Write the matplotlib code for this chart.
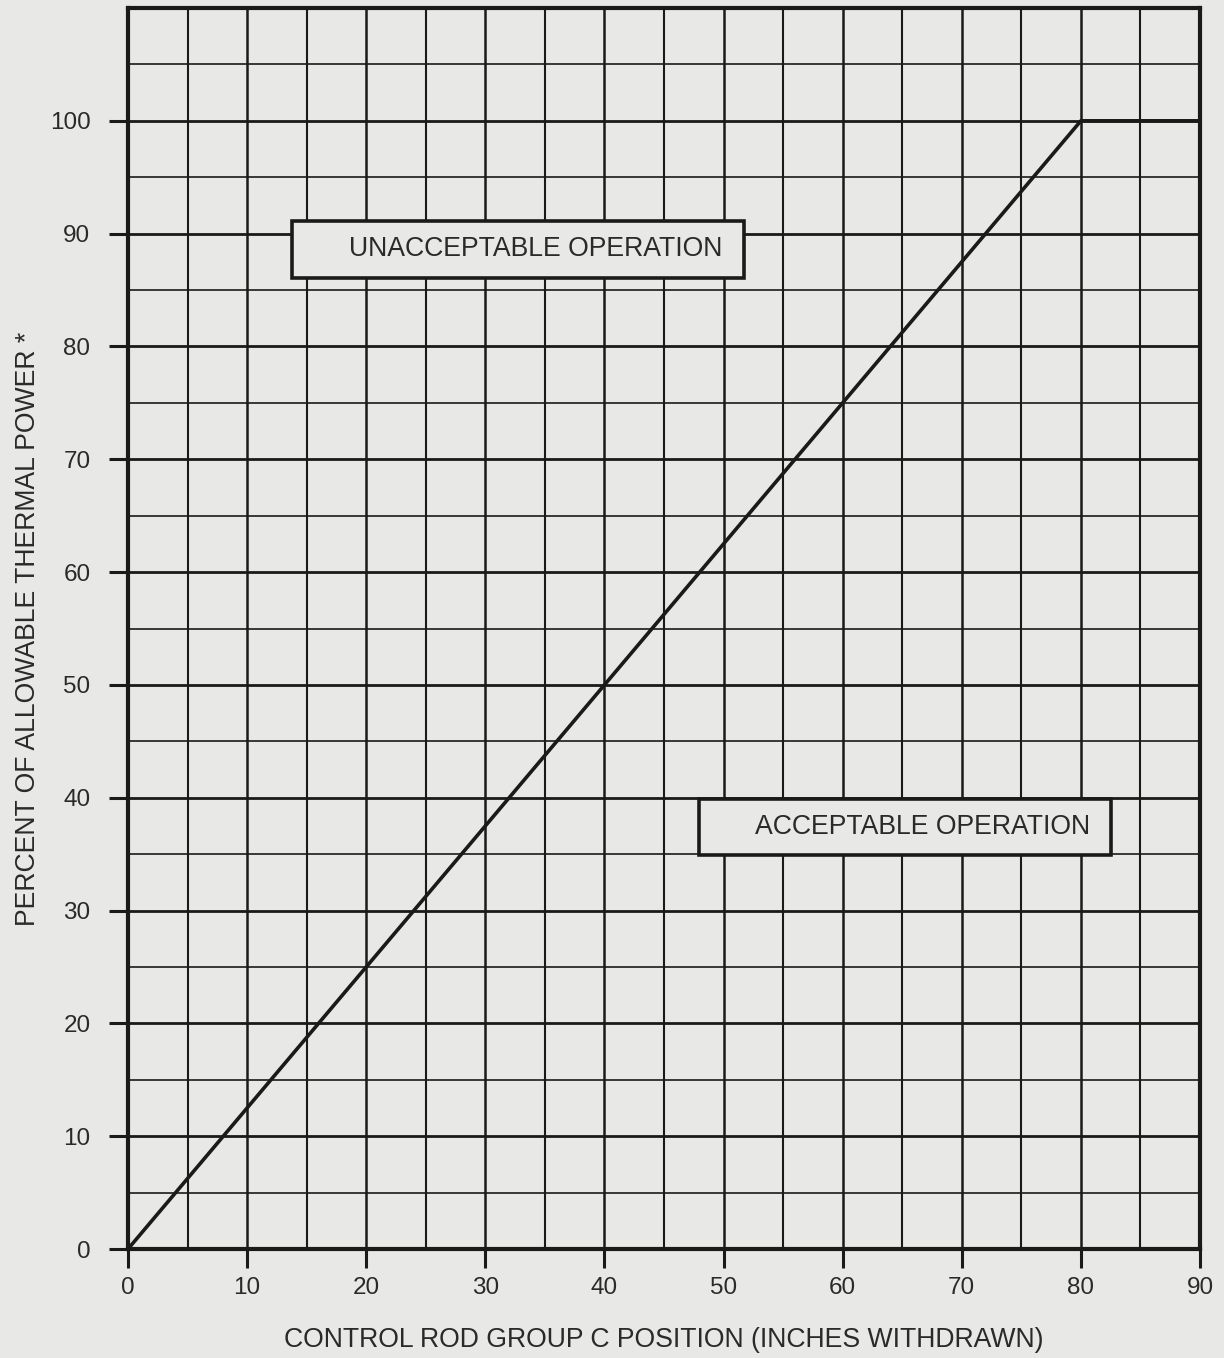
import matplotlib.pyplot as plt
import numpy as np

# limit curve: rod position vs allowable power
rod_position = [0, 80, 90]
thermal_power = [0, 100, 100]

x_ticks = list(range(0, 91, 10))
y_ticks = list(range(0, 101, 10))

region_labels = ["UNACCEPTABLE OPERATION", "ACCEPTABLE OPERATION"]

bg = "#e8e8e6"
ink = "#1a1a1a"
txt = "#2a2a2a"

plt.rcParams["font.family"] = ["Liberation Sans", "DejaVu Sans"]

fig = plt.figure(figsize=(12.24, 13.58), dpi=100, facecolor=bg)
ax = fig.add_axes([128 / 1224, 1 - 1249 / 1358, (1200 - 128) / 1224, (1249 - 8) / 1358])
ax.set_facecolor(bg)

ax.set_xlim(0, 90)
ax.set_ylim(0, 110)

# grid every 5 units
for v in np.arange(5, 90, 5):
    ax.axvline(v, color=ink, lw=1.8 if v % 10 == 0 else 1.5, zorder=1)
for v in np.arange(5, 110, 5):
    ax.axhline(v, color=ink, lw=2.0 if v % 10 == 0 else 1.2, zorder=1)

ax.plot(rod_position, thermal_power, color=ink, lw=2.6, zorder=3)

ax.set_xticks(x_ticks)
ax.set_yticks(y_ticks)
ax.tick_params(axis="both", direction="out", length=14, width=2.2, color=ink,
               labelsize=17.5, labelcolor=txt)
ax.tick_params(axis="x", pad=6)
ax.tick_params(axis="y", pad=13)

for s in ax.spines.values():
    s.set_linewidth(3)
    s.set_color(ink)

ax.add_patch(plt.Rectangle((13.8, 86.1), 37.9, 5.0, facecolor=bg, edgecolor=ink, lw=2.6, zorder=4))
ax.text(34.2, 88.6, region_labels[0], ha="center", va="center", fontsize=19.2,
        color=txt, zorder=5)
ax.add_patch(plt.Rectangle((47.9, 34.9), 34.6, 5.0, facecolor=bg, edgecolor=ink, lw=2.6, zorder=4))
ax.text(66.7, 37.4, region_labels[1], ha="center", va="center", fontsize=19.2,
        color=txt, zorder=5)

ax.set_xlabel("CONTROL ROD GROUP C POSITION (INCHES WITHDRAWN)", fontsize=19.2,
              color=txt, labelpad=20)
ax.set_ylabel("PERCENT OF ALLOWABLE THERMAL POWER *", fontsize=19.2,
              color=txt, labelpad=6)

fig.savefig("out.png", dpi=100, facecolor=bg)
